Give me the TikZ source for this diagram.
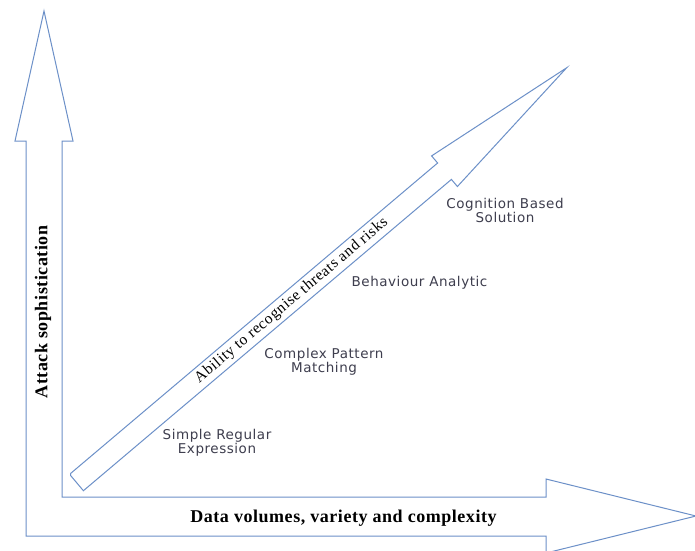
\documentclass[tikz,border=0pt]{standalone}
\usepackage{fontspec}
\setmainfont{Liberation Serif}
\newfontfamily\labelfont{DejaVu Sans}[LetterSpace=4]
\newfontfamily\axisfont{Liberation Serif}[LetterSpace=3]
\newfontfamily\bandfont{Liberation Serif}[LetterSpace=4]
\definecolor{arrowblue}{RGB}{108,144,200}
\definecolor{labelgrey}{RGB}{62,62,78}
\tikzset{
  blockline/.style={draw=arrowblue, line width=1pt, line join=miter},
  stagelabel/.style={font=\labelfont\fontsize{13.5}{12}\selectfont, text=labelgrey, align=center, inner sep=0pt},
  axislabel/.style={font=\axisfont\bfseries\fontsize{18}{20}\selectfont, text=black, inner sep=0pt},
  bandlabel/.style={font=\bandfont\fontsize{15.5}{17}\selectfont, text=black, inner sep=0pt, rotate=40.2}
}
\begin{document}
\begin{tikzpicture}[x=1pt,y=-1pt]
\clip (0,0) rectangle (695,550);
\fill[white] (0,0) rectangle (695,550);

% L-shaped pair of axis arrows (vertical and horizontal share the corner)
\draw[blockline] (26,536) -- (26,141) -- (15,141) -- (44,11) -- (73,141)
  -- (62,141) -- (62,497) -- (546,497) -- (546,479) -- (696,516)
  -- (546,553) -- (546,536) -- cycle;

% diagonal arrow
\coordinate (tailU) at (69.6,474.3);
\coordinate (tailL) at (83.4,490.7);
\coordinate (shaftU) at (437.6,163.0);
\coordinate (headU) at (431.6,155.9);
\coordinate (tip) at (566.6,67.8);
\coordinate (headL) at (457.4,186.5);
\coordinate (shaftL) at (451.4,179.4);
\draw[blockline] (shaftL) -- (tailL) [rounded corners=1.5pt] -- (tailU) [sharp corners] -- (shaftU)
  -- (headU) -- (tip) -- (headL) -- cycle;

% texts
\node[bandlabel] (band) at (291.5,300.6) {Ability to recognise threats and risks};
\node[axislabel, rotate=90] (ylabel) at (43,312) {Attack sophistication};
\node[axislabel] (xlabel) at (343.5,518) {Data volumes, variety and complexity};

\node[stagelabel] (simple) at (217,443) {Simple Regular\\Expression};
\node[stagelabel] (complex) at (324,362) {Complex Pattern\\Matching};
\node[stagelabel] (behaviour) at (419.5,283) {Behaviour Analytic};
\node[stagelabel] (cognition) at (505,210) {Cognition Based\\Solution};
\end{tikzpicture}
\end{document}
